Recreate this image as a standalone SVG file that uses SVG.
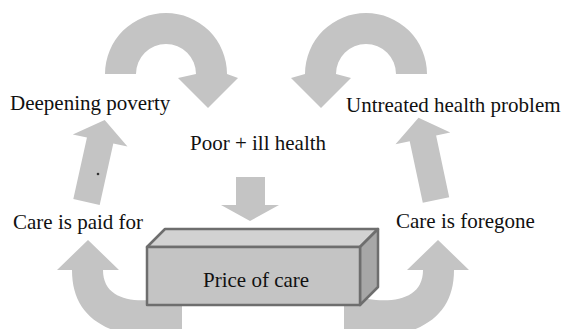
<svg xmlns="http://www.w3.org/2000/svg" width="562" height="329" viewBox="0 0 562 329">
<style>
.arr{fill:#c4c4c4;stroke:none}
.lbl{font-family:"Liberation Serif","Times New Roman",serif;font-size:21px;fill:#111}
.edge{stroke:#6e6e6e;stroke-width:2.5;stroke-linejoin:round}
</style>
<rect width="562" height="329" fill="#ffffff"/>
<g id="connectors">
<path class="arr" d="M105 74 A61 61 0 0 1 227 74 L238 78 L208 108 L178 78 L196 74 A30 30 0 0 0 136 74 Z"/>
<path class="arr" d="M427 74 A61 61 0 0 0 305 74 L291 78 L321 108 L351 78 L336 74 A30 30 0 0 1 396 74 Z"/>
<path class="arr" d="M103 270 L119 270 L88 240 L57 270 L72 270 C72 320 110 340 182 340 L182 296 L150 300 C125 302 103 295 103 270 Z"/>
<path class="arr" d="M423 270 L407 270 L438 240 L469 270 L454 270 C454 320 416 340 344 340 L344 296 L376 300 C401 302 423 295 423 270 Z"/>
<path class="arr" transform="translate(86.5,202) rotate(12.5)" d="M-13.5 0 L-13.5 -63 L-28 -63 L0 -84 L28 -63 L13.5 -63 L13.5 0 Z"/>
<path class="arr" transform="translate(436,200) rotate(-12)" d="M-13.5 0 L-13.5 -63 L-28 -63 L0 -84 L28 -63 L13.5 -63 L13.5 0 Z"/>
<path class="arr" d="M236 177 L265 177 L265 205 L279 205 L250 221 L221 205 L236 205 Z"/>
<circle cx="98" cy="174" r="1.3" fill="#333"/>
</g>
<g id="price-of-care">
<polygon class="edge" points="147,247 165,229 378,229 360,247" fill="#d2d2d2"/>
<polygon class="edge" points="360,247 378,229 378,287 360,305" fill="#a7a7a7"/>
<rect class="edge" x="147" y="247" width="213" height="58" fill="#c4c4c4"/>
<text class="lbl" x="203" y="287">Price of care</text>
</g>
<g id="poor-ill-health"><text class="lbl" x="190" y="150">Poor + ill health</text></g>
<g id="deepening-poverty"><text class="lbl" x="10" y="110">Deepening poverty</text></g>
<g id="untreated-health-problem"><text class="lbl" x="346" y="112">Untreated health problem</text></g>
<g id="care-is-paid-for"><text class="lbl" x="13" y="229">Care is paid for</text></g>
<g id="care-is-foregone"><text class="lbl" x="396" y="228">Care is foregone</text></g>
</svg>
